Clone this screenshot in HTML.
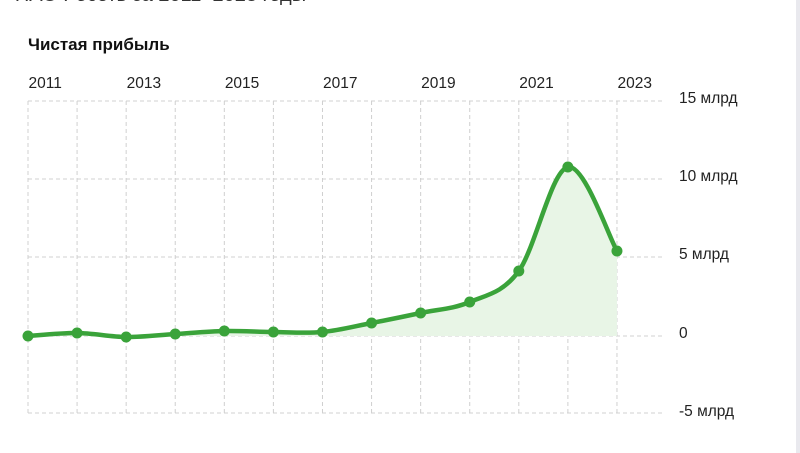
<!DOCTYPE html>
<html><head><meta charset="utf-8"><style>
body{margin:0;width:800px;height:453px;background:#fff;overflow:hidden;font-family:"Liberation Sans","DejaVu Sans",sans-serif;position:relative}
.t{position:absolute;color:#222}
</style></head><body>
<div class="t" style="left:-4px;top:-16px;font-size:20px;color:#333">Р ПАО Росеть за 2011–2023 годы</div>
<div class="t" style="left:28px;top:35px;font-size:17px;font-weight:bold;color:#111">Чистая прибыль</div>
<div style="position:absolute;left:796px;top:0;width:4px;height:453px;background:#e9e9ee"></div>
<svg width="800" height="453" style="position:absolute;left:0;top:0">
<g id="g" stroke="#d0d0d0" stroke-dasharray="4,3" stroke-width="1" fill="none"></g>
<path id="area" fill="#e8f5e6" stroke="none"/>
<path id="line" fill="none" stroke="#3aa33a" stroke-width="4.5" stroke-linejoin="round"/>
<g id="pts" fill="#3aa33a"></g>
<g font-size="15.5" fill="#222" font-family="Liberation Sans, sans-serif" id="lab"></g>
</svg>
<script>
var xs=[],ys=[336,333,337,334,331,332,332,323,313,302,271,167,251];
for(var i=0;i<13;i++)xs.push(28+i*49.08);
var g=document.getElementById('g'),s='';
[101,179,257,336,413].forEach(function(y){s+='<line x1="28" x2="663" y1="'+y+'" y2="'+y+'"/>';});
xs.forEach(function(x){s+='<line x1="'+x+'" x2="'+x+'" y1="101" y2="413"/>';});
g.innerHTML=s;
var d='M'+xs[0]+','+ys[0];
for(var i=0;i<12;i++){
 var x0=xs[Math.max(i-1,0)],y0=ys[Math.max(i-1,0)],x1=xs[i],y1=ys[i],x2=xs[i+1],y2=ys[i+1],x3=xs[Math.min(i+2,12)],y3=ys[Math.min(i+2,12)];
 d+=' C'+(x1+(x2-x0)/6)+','+(y1+(y2-y0)/6)+' '+(x2-(x3-x1)/6)+','+(y2-(y3-y1)/6)+' '+x2+','+y2;
}
document.getElementById('line').setAttribute('d',d);
document.getElementById('area').setAttribute('d',d+' L'+xs[12]+',336 L28,336 Z');
var p='';xs.forEach(function(x,i){p+='<circle cx="'+x+'" cy="'+ys[i]+'" r="5.5"/>';});
document.getElementById('pts').innerHTML=p;
var l='';
for(var i=0;i<13;i+=2)l+='<text x="'+(xs[i]+0.5)+'" y="88">'+(2011+i)+'</text>';
[['15 млрд',98],['10 млрд',176],['5 млрд',254],['0',333],['-5 млрд',411]].forEach(function(a){l+='<text x="679" y="'+(a[1]+5)+'">'+a[0]+'</text>';});
document.getElementById('lab').innerHTML=l;
</script>
</body></html>
